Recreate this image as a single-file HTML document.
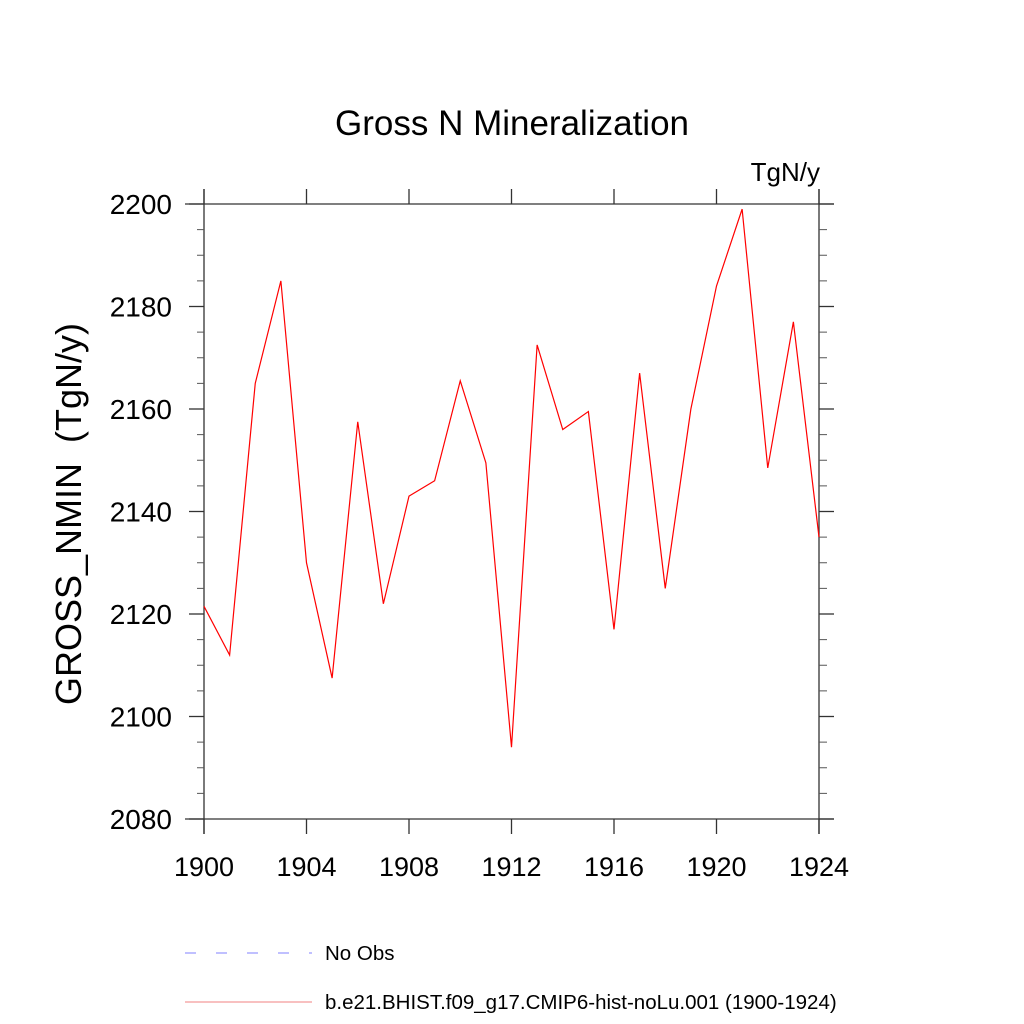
<!DOCTYPE html>
<html><head><meta charset="utf-8"><style>body{margin:0;background:#fff}svg{display:block}text{font-family:"Liberation Sans",sans-serif}</style></head>
<body>
<svg id="chart" width="1024" height="1024" viewBox="0 0 1024 1024" xmlns="http://www.w3.org/2000/svg">
<text x="512" y="135" font-size="35" text-anchor="middle">Gross N Mineralization</text>
<text x="820" y="181" font-size="26" text-anchor="end">TgN/y</text>
<text transform="translate(81,514) rotate(-90)" font-size="36" text-anchor="middle" xml:space="preserve">GROSS_NMIN  (TgN/y)</text>
<g id="axes"></g>
<g id="series"></g>
<g>
<line x1="185" y1="953" x2="312" y2="953" stroke="#8080ff" stroke-width="1" stroke-dasharray="11,20"/>
<text x="325" y="960" font-size="20.5">No Obs</text>
<line x1="185" y1="1002" x2="312" y2="1002" stroke="#f08080" stroke-width="1"/>
<text x="325" y="1009" font-size="20.5">b.e21.BHIST.f09_g17.CMIP6-hist-noLu.001 (1900-1924)</text>
</g>
</svg>
<script>
const years = [1900,1901,1902,1903,1904,1905,1906,1907,1908,1909,1910,1911,1912,1913,1914,1915,1916,1917,1918,1919,1920,1921,1922,1923,1924];
const values = [2121.5,2112,2165,2185,2130,2107.5,2157.5,2122,2143,2146,2165.5,2149.5,2094,2172.5,2156,2159.5,2117,2167,2125,2160,2184,2199,2148.5,2177,2135];
const xTicks = [1900,1904,1908,1912,1916,1920,1924];
const yTicks = [2080,2100,2120,2140,2160,2180,2200];
const yMinor = [2085,2090,2095,2105,2110,2115,2125,2130,2135,2145,2150,2155,2165,2170,2175,2185,2190,2195];
const L=204,R=819,T=204,B=819;
const x=v=>L+(v-1900)/24*(R-L);
const y=v=>B-(v-2080)/120*(B-T);
const NS='http://www.w3.org/2000/svg';
const ax=document.getElementById('axes');
function ln(x1,y1,x2,y2,name,c,w){const e=document.createElementNS(NS,'line');
e.setAttribute('x1',x1);e.setAttribute('y1',y1);e.setAttribute('x2',x2);e.setAttribute('y2',y2);
e.setAttribute('stroke',c||'#333');e.setAttribute('stroke-width',w||1.3);


ax.appendChild(e);return e;}
ln(185,T,834,T,'top-axis');ln(185,B,834,B,'bottom-axis');
ln(L,189,L,834,'left-axis');ln(R,189,R,834,'right-axis');
xTicks.forEach(t=>{ln(x(t),B,x(t),834,'x-tick');ln(x(t),189,x(t),T,'x-tick-top');
const tx=document.createElementNS(NS,'text');tx.setAttribute('x',x(t));tx.setAttribute('y',876);tx.setAttribute('font-size',27);tx.setAttribute('text-anchor','middle');tx.textContent=t;


ax.appendChild(tx);});
yTicks.forEach(t=>{ln(189,y(t),L,y(t),'y-tick');ln(R,y(t),834,y(t),'y-tick-right');
const tx=document.createElementNS(NS,'text');tx.setAttribute('x',172);tx.setAttribute('y',y(t)+10);tx.setAttribute('font-size',28);tx.setAttribute('text-anchor','end');tx.textContent=t;


ax.appendChild(tx);});
yMinor.forEach(t=>{ln(197,y(t),L,y(t),'y-minor-tick','#555',1);ln(R,y(t),827,y(t),'y-minor-tick-right','#555',1);});
const p=document.createElementNS(NS,'polyline');
p.setAttribute('points',years.map((yr,i)=>x(yr)+','+y(values[i])).join(' '));
p.setAttribute('fill','none');p.setAttribute('stroke','#ff0000');p.setAttribute('stroke-width','1.2');


document.getElementById('series').appendChild(p);
</script>
</body></html>
